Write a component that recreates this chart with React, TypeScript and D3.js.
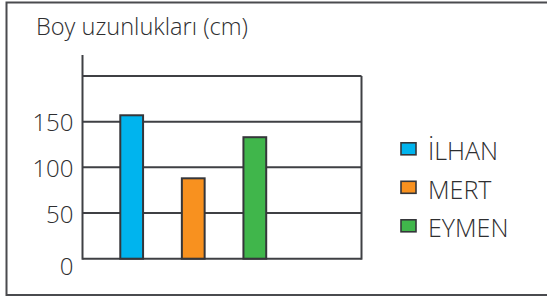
import React from "react";
import * as d3 from "d3";

const title = "Boy uzunlukları (cm)";
const categories = ["İLHAN", "MERT", "EYMEN"];
const values = [157, 88, 133];
const colors = ["#00b4ee", "#f8911f", "#40b64b"];
const yTicks = [0, 50, 100, 150, 200];
const yTickLabels = ["0", "50", "100", "150", ""];

const W = 547;
const H = 298;
const FONT = "'Open Sans', 'Noto Sans', sans-serif";
const INK = "#3f4044";
const TEXT = "#2e2e30";

export default function App() {
  const plotLeft = 82.5;
  const plotRight = 361.5;
  const plotTop = 76;
  const plotBottom = 258.7;

  const y = d3.scaleLinear().domain([0, 200]).range([plotBottom, plotTop]);
  const x = d3
    .scaleBand<string>()
    .domain(categories)
    .range([89.5, 297])
    .paddingInner(0.63)
    .paddingOuter(0.5);

  return (
    <svg
      width={W}
      height={H}
      style={{ position: "absolute", left: 0, top: 0, background: "#fff" }}
    >
      <rect x={0} y={0} width={W} height={H} fill="#ffffff" />
      {/* outer frame */}
      <rect
        x={6.5}
        y={2.5}
        width={W + 20}
        height={292.5}
        fill="none"
        stroke="#4a4b4f"
        strokeWidth={2}
      />
      <text
        x={36}
        y={35}
        fontFamily={FONT}
        fontSize={24}
        fontWeight={300}
        fill={TEXT}
        textLength={212}
        lengthAdjust="spacingAndGlyphs"
      >
        {title}
      </text>

      {/* grid lines */}
      {yTicks.map((t) => (
        <line
          key={t}
          x1={plotLeft}
          x2={plotRight}
          y1={y(t)}
          y2={y(t)}
          stroke={INK}
          strokeWidth={2}
        />
      ))}
      {/* right border */}
      <line
        x1={plotRight}
        x2={plotRight}
        y1={plotTop}
        y2={plotBottom + 1}
        stroke={INK}
        strokeWidth={2}
      />
      {/* y axis */}
      <line
        x1={plotLeft}
        x2={plotLeft}
        y1={55}
        y2={plotBottom + 1}
        stroke={INK}
        strokeWidth={2}
      />
      {/* tick labels */}
      {yTicks.map((t, i) => (
        <text
          key={"l" + t}
          x={73.5}
          y={t === 0 ? y(t) + 7 : y(t)}
          textAnchor="end"
          dominantBaseline="central"
          fontFamily={FONT}
          fontSize={24}
          fontWeight={300}
          fill={TEXT}
        >
          {yTickLabels[i]}
        </text>
      ))}

      {/* bars */}
      {categories.map((c, i) => (
        <rect
          key={c}
          x={x(c)}
          y={y(values[i])}
          width={x.bandwidth()}
          height={y(0) - y(values[i])}
          fill={colors[i]}
          stroke="#35363a"
          strokeWidth={2}
        />
      ))}

      {/* legend */}
      {categories.map((c, i) => {
        const capTop = 142 + i * 38.5;
        return (
          <g key={"lg" + c}>
            <rect
              x={401}
              y={capTop + 0.8}
              width={15}
              height={12}
              fill={colors[i]}
              stroke="#35363a"
              strokeWidth={1.6}
            />
            <text
              x={428}
              y={capTop + 18}
              fontFamily={FONT}
              fontSize={25}
              fontWeight={300}
              fill={TEXT}
            >
              {c}
            </text>
          </g>
        );
      })}
    </svg>
  );
}
